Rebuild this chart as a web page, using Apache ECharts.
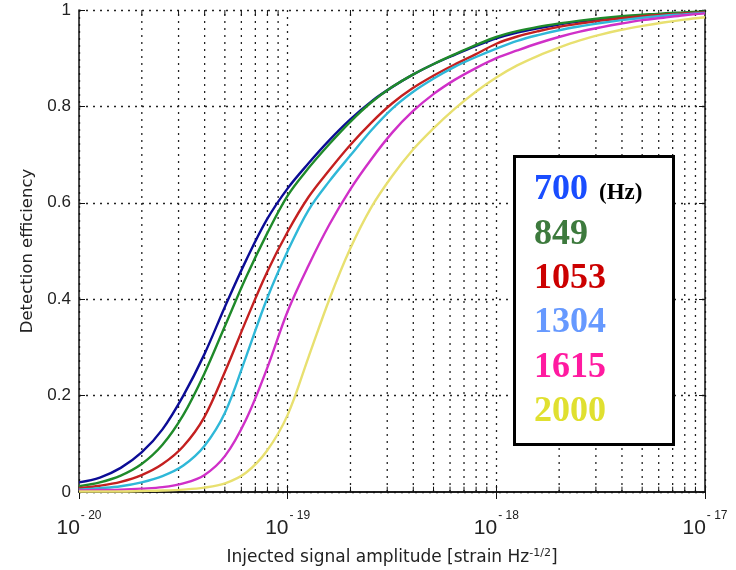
<!DOCTYPE html>
<html>
<head>
<meta charset="utf-8">
<script src="https://cdn.jsdelivr.net/npm/echarts@6/dist/echarts.min.js"></script>
<style>html,body{margin:0;padding:0;background:#fff;}#c{width:736px;height:570px;}</style>
</head>
<body>
<div id="c"></div>
<script>
// log10 of injected amplitude
var exponents = [-20.0,-19.9,-19.8,-19.7,-19.6,-19.5,-19.4,-19.3,-19.2,-19.1,-19.0,-18.9,-18.8,-18.7,-18.6,-18.5,-18.4,-18.3,-18.2,-18.1,-18.0,-17.9,-17.8,-17.7,-17.6,-17.5,-17.4,-17.3,-17.2,-17.1,-17.0];
var freqLabels = ['700','849','1053','1304','1615','2000'];
var eff700  = [0.02,0.03,0.05,0.082,0.13,0.2,0.285,0.385,0.48,0.565,0.63,0.682,0.73,0.773,0.81,0.84,0.866,0.888,0.907,0.925,0.941,0.953,0.962,0.97,0.976,0.981,0.985,0.988,0.991,0.994,0.996];
var eff849  = [0.012,0.02,0.034,0.058,0.098,0.16,0.245,0.345,0.445,0.535,0.615,0.672,0.722,0.768,0.808,0.84,0.866,0.888,0.908,0.927,0.944,0.956,0.965,0.972,0.978,0.983,0.987,0.99,0.993,0.995,0.997];
var eff1053 = [0.008,0.013,0.021,0.035,0.058,0.095,0.155,0.25,0.355,0.455,0.54,0.612,0.668,0.72,0.766,0.806,0.838,0.864,0.887,0.908,0.93,0.945,0.956,0.965,0.972,0.978,0.983,0.987,0.99,0.993,0.995];
var eff1304 = [0.005,0.008,0.012,0.02,0.033,0.055,0.095,0.165,0.28,0.4,0.5,0.585,0.645,0.698,0.75,0.795,0.83,0.858,0.882,0.902,0.92,0.936,0.948,0.958,0.966,0.973,0.979,0.984,0.988,0.991,0.994];
var eff1615 = [0.003,0.004,0.005,0.007,0.01,0.018,0.035,0.075,0.15,0.255,0.375,0.47,0.555,0.628,0.69,0.745,0.79,0.826,0.855,0.879,0.9,0.916,0.931,0.944,0.955,0.964,0.972,0.979,0.984,0.989,0.993];
var eff2000 = [0.001,0.001,0.001,0.002,0.003,0.005,0.009,0.018,0.04,0.085,0.16,0.28,0.4,0.505,0.59,0.655,0.71,0.755,0.795,0.83,0.86,0.885,0.905,0.922,0.937,0.949,0.959,0.967,0.974,0.98,0.985];
var decades = [-20,-19,-18];
var minorMultipliers = [2,3,4,5,6,7,8,9];

var lineColors = ['#0c0c96','#1f8a2a','#c42020','#2fb8d8','#d030c8','#e8e070'];
var legendColors = ['#1a4dff','#3d7a3d','#cc0000','#6699ff','#ff1aa0','#e0e030'];
var allEff = [eff700,eff849,eff1053,eff1304,eff1615,eff2000];

var minorVals = [];
decades.forEach(function(d){ minorMultipliers.forEach(function(m){ minorVals.push(m*Math.pow(10,d)); }); });

// minor grid (dotted) and minor ticks (short, bottom & top), drawn through the axes
var gridData = [], tickData = [];
minorVals.forEach(function(v){
  gridData.push([v,0],[v,1],[v,'-']);
  tickData.push([v,0],[v,0.011],[v,'-'],[v,0.989],[v,1],[v,'-']);
});

var chart = echarts.init(document.getElementById('c'));
var series = [{
  type:'line', data:gridData, silent:true, z:1, showSymbol:false, connectNulls:false,
  lineStyle:{type:[2,5], color:'#222', width:1.3}
},{
  type:'line', data:tickData, silent:true, z:2, showSymbol:false, connectNulls:false,
  lineStyle:{color:'#111', width:1}
}];
allEff.forEach(function(arr,i){
  series.push({
    name: freqLabels[i], type:'line', showSymbol:false, smooth:0.35, z:3+i,
    lineStyle:{color:lineColors[i], width:2.4}, itemStyle:{color:lineColors[i]},
    data: exponents.map(function(e,j){ return [Math.pow(10,e), arr[j]]; })
  });
});

var labelFmt = function(v){
  var e = Math.round(Math.log10(v));
  return '{b|10}{s|' + (e<0 ? '- ' + (-e) : e) + '}';
};

chart.setOption({
  animation:false,
  backgroundColor:'#fff',
  grid:{left:79, top:10, right:31, bottom:78, containLabel:false, outerBoundsMode:'none'},
  xAxis:[{
    type:'log', logBase:10, min:1e-20, max:1e-17,
    axisLine:{lineStyle:{color:'#111', width:1.5}},
    axisTick:{inside:true, length:7, lineStyle:{color:'#111'}},
    splitLine:{show:true, lineStyle:{type:[2,5], color:'#222', width:1.3}},
    minorTick:{show:false},
    axisLabel:{margin:18, formatter:labelFmt,
      rich:{ b:{fontSize:21, fontFamily:'Liberation Sans', color:'#222', verticalAlign:'bottom'},
             s:{fontSize:12, fontFamily:'Liberation Sans', color:'#222', padding:[0,0,17,1], verticalAlign:'bottom'} }},
    name:'Injected signal amplitude [strain Hz{s|-1/2}]',
    nameLocation:'middle', nameGap:56,
    nameTextStyle:{fontSize:17, fontFamily:'DejaVu Sans', color:'#222',
      rich:{ s:{fontSize:11, fontFamily:'DejaVu Sans', color:'#222', padding:[0,0,9,0]} }}
  },{
    type:'log', logBase:10, min:1e-20, max:1e-17, position:'top',
    axisLine:{lineStyle:{color:'#111', width:1.5}},
    axisTick:{inside:true, length:7, lineStyle:{color:'#111'}},
    axisLabel:{show:false}, splitLine:{show:false}
  }],
  yAxis:[{
    type:'value', min:0, max:1, interval:0.2,
    axisLine:{show:true, lineStyle:{color:'#111', width:1.5}},
    axisTick:{show:true, inside:true, length:6, lineStyle:{color:'#111'}},
    splitLine:{show:true, lineStyle:{type:[2,5], color:'#222', width:1.3}},
    axisLabel:{fontSize:17, fontFamily:'Liberation Sans', color:'#222', margin:8},
    name:'Detection efficiency', nameLocation:'middle', nameGap:40,
    nameTextStyle:{fontSize:16.5, fontFamily:'DejaVu Sans', color:'#222'}
  },{
    type:'value', min:0, max:1, interval:0.2, position:'right',
    axisLine:{show:true, lineStyle:{color:'#111', width:1.5}},
    axisTick:{show:true, inside:true, length:6, lineStyle:{color:'#111'}},
    axisLabel:{show:false}, splitLine:{show:false}
  }],
  series: series,
  graphic:[{
    type:'rect', left:513, top:155, z:100,
    shape:{width:159, height:288},
    style:{fill:'#fff', stroke:'#000', lineWidth:3}
  }].concat(freqLabels.map(function(f,i){
    return {type:'text', left:534, top:172 + i*44.4, z:101,
      style:{text:f, fill:legendColors[i], font:'bold 36px "Liberation Serif"'}};
  })).concat([{
    type:'text', left:599, top:182, z:101,
    style:{text:'(Hz)', fill:'#000', font:'bold 23px "Liberation Serif"'}
  }])
});
</script>
</body>
</html>
